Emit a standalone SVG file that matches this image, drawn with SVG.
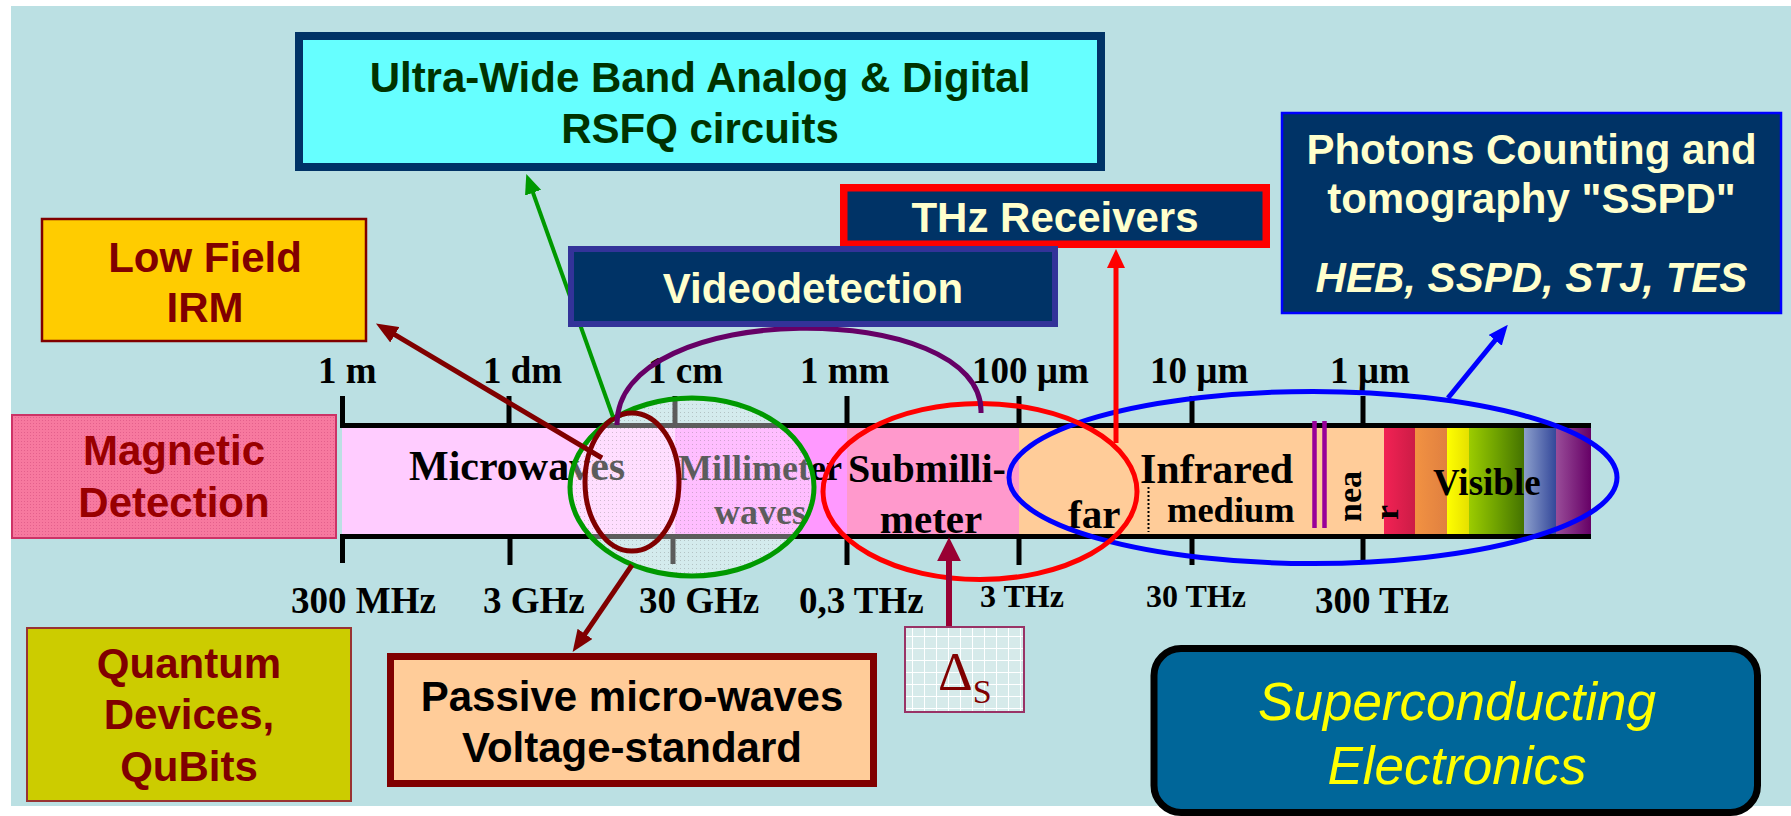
<svg xmlns="http://www.w3.org/2000/svg" width="1791" height="816" viewBox="0 0 1791 816">
<style>
.sans{font-family:"Liberation Sans",Arial,sans-serif;font-weight:bold;}
.serif{font-family:"Liberation Serif","Times New Roman",serif;font-weight:bold;fill:#000;}
.c{text-anchor:middle;}
.t42{font-size:42px;}
.cream{fill:#FFFFCC;}
.tick{stroke:#000;stroke-width:5;fill:none;}
.lbl{font-size:37px;}
.lbl-s{font-size:32px;}
.ell{fill:none;stroke-width:5;}
.conn{fill:none;}
</style>
<defs>
<marker id="ah-darkred" viewBox="0 0 10 10" refX="0.5" refY="5" markerWidth="22" markerHeight="18" markerUnits="userSpaceOnUse" orient="auto" preserveAspectRatio="none"><path d="M0,0L10,5L0,10z" fill="#800000"/></marker>
<marker id="ah-green" viewBox="0 0 10 10" refX="0.5" refY="5" markerWidth="20" markerHeight="17" markerUnits="userSpaceOnUse" orient="auto" preserveAspectRatio="none"><path d="M0,0L10,5L0,10z" fill="#009900"/></marker>
<marker id="ah-red" viewBox="0 0 10 10" refX="0.5" refY="5" markerWidth="19" markerHeight="18" markerUnits="userSpaceOnUse" orient="auto" preserveAspectRatio="none"><path d="M0,0L10,5L0,10z" fill="#FF0000"/></marker>
<marker id="ah-blue" viewBox="0 0 10 10" refX="0.5" refY="5" markerWidth="20" markerHeight="17" markerUnits="userSpaceOnUse" orient="auto" preserveAspectRatio="none"><path d="M0,0L10,5L0,10z" fill="#0000FF"/></marker>
<marker id="ah-crimson" viewBox="0 0 10 10" refX="0.5" refY="5" markerWidth="24" markerHeight="24" markerUnits="userSpaceOnUse" orient="auto" preserveAspectRatio="none"><path d="M0,0L10,5L0,10z" fill="#990033"/></marker>
<pattern id="pat-hatch" width="4" height="4" patternUnits="userSpaceOnUse"><rect width="4" height="4" fill="#FFFFFF" fill-opacity="0.36"/><rect width="1" height="1" fill="#666666" fill-opacity="0.3"/></pattern>
<pattern id="pat-grid" width="12" height="12" patternUnits="userSpaceOnUse"><rect width="12" height="12" fill="#D6EAEA"/><path d="M0,0.5H12M0.5,0V12" stroke="#FFFFFF" stroke-width="1"/></pattern>
<pattern id="pat-pink" width="3" height="3" patternUnits="userSpaceOnUse"><rect width="3" height="3" fill="#F7799F"/><rect width="1" height="1" fill="#E3608C"/></pattern>
<linearGradient id="g-red"><stop offset="0" stop-color="#F22254"/><stop offset="1" stop-color="#CC1C46"/></linearGradient>
<linearGradient id="g-orange"><stop offset="0" stop-color="#F29242"/><stop offset="1" stop-color="#E08040"/></linearGradient>
<linearGradient id="g-yellow"><stop offset="0" stop-color="#FFFF00"/><stop offset="1" stop-color="#E6E000"/></linearGradient>
<linearGradient id="g-green"><stop offset="0" stop-color="#9CCC00"/><stop offset="0.5" stop-color="#6FA200"/><stop offset="1" stop-color="#447300"/></linearGradient>
<linearGradient id="g-blue"><stop offset="0" stop-color="#8C9FCC"/><stop offset="1" stop-color="#34489A"/></linearGradient>
<linearGradient id="g-purple"><stop offset="0" stop-color="#994D99"/><stop offset="1" stop-color="#660066"/></linearGradient>
</defs>

<rect id="background" x="11" y="6" width="1780" height="800" fill="#BBE0E3"/>

<g id="spectrum">
  <rect x="342" y="428" width="333" height="106" fill="#FFCCFF"/>
  <rect x="675" y="428" width="172" height="106" fill="#FF99FF"/>
  <rect x="847" y="428" width="172" height="106" fill="#FF99CC"/>
  <rect x="1019" y="428" width="365" height="106" fill="#FFCC99"/>
  <rect x="1384" y="427" width="31" height="109" fill="url(#g-red)"/>
  <rect x="1415" y="427" width="32" height="109" fill="url(#g-orange)"/>
  <rect x="1447" y="427" width="22" height="109" fill="url(#g-yellow)"/>
  <rect x="1469" y="427" width="55" height="109" fill="url(#g-green)"/>
  <rect x="1524" y="427" width="32" height="109" fill="url(#g-blue)"/>
  <rect x="1556" y="427" width="35" height="109" fill="url(#g-purple)"/>
  <path class="tick" d="M340,425.5H1591M340,536.5H1591"/>
  <path class="tick" d="M342.5,396V425M509,396V425M675,396V425M847,396V425M1019,396V425M1192,396V425M1363,396V425"/>
  <path class="tick" d="M342.5,536V563M510,536V565M673,536V564M847,536V565M1019,536V565M1192,536V565M1363,536V562"/>
  <path d="M1148.5,487V532" stroke="#000" stroke-width="2" stroke-dasharray="2,2"/>
  <path d="M1314.5,421V528M1324.5,421V528" stroke="#990099" stroke-width="4.5"/>
  <text class="serif" x="409" y="480" font-size="42">Microwaves</text>
  <text class="serif c" x="760" y="480" font-size="36">Millimeter</text>
  <text class="serif c" x="760" y="524" font-size="36">waves</text>
  <text class="serif c" x="927" y="482" font-size="40">Submilli-</text>
  <text class="serif c" x="931" y="533" font-size="41">meter</text>
  <text class="serif" x="1068" y="528" font-size="41">far</text>
  <text class="serif" x="1140" y="483" font-size="42">Infrared</text>
  <text class="serif" x="1167" y="522" font-size="36.5">medium</text>
  <text class="serif" font-size="34" transform="translate(1361,522) rotate(-90)">nea</text>
  <text class="serif" font-size="34" transform="translate(1398,520) rotate(-90)">r</text>
  <text class="serif" x="1433" y="495" font-size="37">Visible</text>
</g>

<g id="scale-labels">
  <text class="serif lbl" x="318" y="383">1 m</text>
  <text class="serif lbl" x="483" y="383">1 dm</text>
  <text class="serif lbl" x="648" y="383">1 cm</text>
  <text class="serif lbl" x="800" y="383">1 mm</text>
  <text class="serif lbl" x="972" y="383">100 µm</text>
  <text class="serif lbl" x="1150" y="383">10 µm</text>
  <text class="serif lbl" x="1330" y="383">1 µm</text>
  <text class="serif lbl" x="291" y="613">300 MHz</text>
  <text class="serif lbl" x="483" y="613">3 GHz</text>
  <text class="serif lbl" x="639" y="613">30 GHz</text>
  <text class="serif lbl" x="799" y="613">0,3 THz</text>
  <text class="serif lbl-s" x="980" y="607">3 THz</text>
  <text class="serif lbl-s" x="1146" y="607">30 THz</text>
  <text class="serif lbl" x="1315" y="613">300 THz</text>
</g>

<g id="highlights">
  <ellipse cx="692" cy="487" rx="122" ry="89" fill="url(#pat-hatch)" stroke="#009900" stroke-width="5"/>
  <ellipse class="ell" cx="632" cy="482" rx="47" ry="69" stroke="#800000"/>
  <ellipse class="ell" cx="1313" cy="477.5" rx="304" ry="86" stroke="#0000FF"/>
  <ellipse class="ell" cx="980" cy="491.5" rx="157" ry="88" stroke="#FF0000"/>
</g>

<g id="connectors">
  <path class="conn" d="M617,425C615,298 985,298 981,413" stroke="#660066" stroke-width="5"/>
  <line x1="602" y1="458" x2="393.9" y2="334.2" stroke="#800000" stroke-width="5" marker-end="url(#ah-darkred)"/>
  <line x1="632" y1="565" x2="584.4" y2="634.8" stroke="#800000" stroke-width="5" marker-end="url(#ah-darkred)"/>
  <line x1="613" y1="417" x2="532.7" y2="191.8" stroke="#009900" stroke-width="4" marker-end="url(#ah-green)"/>
  <line x1="1116" y1="443" x2="1116" y2="267" stroke="#FF0000" stroke-width="5" marker-end="url(#ah-red)"/>
  <line x1="1448" y1="398" x2="1495.8" y2="339.5" stroke="#0000FF" stroke-width="5" marker-end="url(#ah-blue)"/>
  <line x1="949" y1="627" x2="949" y2="560" stroke="#990033" stroke-width="6" marker-end="url(#ah-crimson)"/>
</g>

<g id="node-ultra">
  <rect x="299" y="36" width="802" height="131" fill="#66FFFF" stroke="#003366" stroke-width="8"/>
  <text class="sans c t42" x="700" y="92" fill="#003300">Ultra-Wide Band Analog &amp; Digital</text>
  <text class="sans c t42" x="700" y="143" fill="#003300">RSFQ circuits</text>
</g>

<g id="node-lowfield">
  <rect x="42" y="219" width="324" height="122" fill="#FFCC00" stroke="#800000" stroke-width="2.5"/>
  <text class="sans c t42" x="205" y="272" fill="#800000">Low Field</text>
  <text class="sans c t42" x="205" y="322" fill="#800000">IRM</text>
</g>

<g id="node-thz">
  <rect x="843.75" y="187.75" width="422.5" height="56.5" fill="#003366" stroke="#FF0000" stroke-width="7.5"/>
  <text class="sans c t42 cream" x="1055" y="232">THz Receivers</text>
</g>

<g id="node-video">
  <rect x="571" y="249" width="484" height="75" fill="#003366" stroke="#333399" stroke-width="6"/>
  <text class="sans c t42 cream" x="813" y="303">Videodetection</text>
</g>

<g id="node-photons">
  <rect x="1282" y="113" width="499" height="200" fill="#003366" stroke="#0000FF" stroke-width="2.5"/>
  <text class="sans c t42 cream" x="1531.5" y="164">Photons Counting and</text>
  <text class="sans c t42 cream" x="1531.5" y="213">tomography "SSPD"</text>
  <text class="sans c t42 cream" x="1531.5" y="292" font-style="italic">HEB, SSPD, STJ, TES</text>
</g>

<g id="node-magnetic">
  <rect x="12" y="415" width="324" height="123" fill="url(#pat-pink)" stroke="#CC3366" stroke-width="2"/>
  <text class="sans c t42" x="174" y="465" fill="#990000">Magnetic</text>
  <text class="sans c t42" x="174" y="517" fill="#990000">Detection</text>
</g>

<g id="node-quantum">
  <rect x="27" y="628" width="324" height="173" fill="#CCCC00" stroke="#993333" stroke-width="2"/>
  <text class="sans c t42" x="189" y="678" fill="#800000">Quantum</text>
  <text class="sans c t42" x="189" y="729" fill="#800000">Devices,</text>
  <text class="sans c t42" x="189" y="781" fill="#800000">QuBits</text>
</g>

<g id="node-passive">
  <rect x="390.5" y="656.5" width="483" height="127" fill="#FFCC99" stroke="#800000" stroke-width="7"/>
  <text class="sans c t42" x="632" y="711" fill="#000">Passive micro-waves</text>
  <text class="sans c t42" x="632" y="762" fill="#000">Voltage-standard</text>
</g>

<g id="node-gap">
  <rect x="905" y="627" width="119" height="85" fill="url(#pat-grid)" stroke="#993366" stroke-width="2"/>
  <text x="938" y="690" font-family="'Liberation Serif','Times New Roman',serif" font-size="54" fill="#800000">Δ<tspan font-size="34" dy="13">S</tspan></text>
</g>

<g id="node-superconducting">
  <rect x="1154" y="648.5" width="603.5" height="164" rx="27" ry="27" fill="#006699" stroke="#000" stroke-width="7"/>
  <text x="1457" y="720" text-anchor="middle" font-family="'Liberation Sans',Arial,sans-serif" font-style="italic" font-size="53" fill="#FFFF00">Superconducting</text>
  <text x="1457" y="784" text-anchor="middle" font-family="'Liberation Sans',Arial,sans-serif" font-style="italic" font-size="53" fill="#FFFF00">Electronics</text>
</g>
</svg>
